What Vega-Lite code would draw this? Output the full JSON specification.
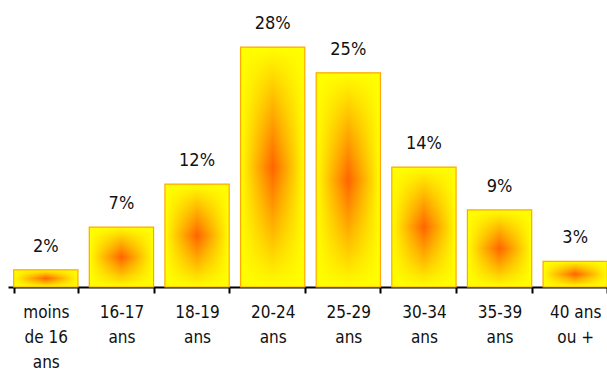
{
  "$schema": "https://vega.github.io/schema/vega-lite/v6.json",
  "width": 605,
  "height": 257,
  "autosize": {"type": "none"},
  "padding": {"left": 8, "top": 30, "right": 0, "bottom": 87},
  "background": "white",
  "config": {
    "view": {"stroke": null},
    "font": "DejaVu Sans Condensed"
  },
  "data": {
    "values": [
      {"groupe": "moins|de 16|ans", "part": 0.02, "etiquette": "2%"},
      {"groupe": "16-17|ans", "part": 0.07, "etiquette": "7%"},
      {"groupe": "18-19|ans", "part": 0.12, "etiquette": "12%"},
      {"groupe": "20-24|ans", "part": 0.28, "etiquette": "28%"},
      {"groupe": "25-29|ans", "part": 0.25, "etiquette": "25%"},
      {"groupe": "30-34|ans", "part": 0.14, "etiquette": "14%"},
      {"groupe": "35-39|ans", "part": 0.09, "etiquette": "9%"},
      {"groupe": "40 ans|ou +", "part": 0.03, "etiquette": "3%"}
    ]
  },
  "encoding": {
    "x": {
      "field": "groupe",
      "type": "nominal",
      "sort": null,
      "scale": {"paddingInner": 0.15, "paddingOuter": 0.075},
      "axis": {
        "title": null,
        "labelAngle": 0,
        "labelExpr": "split(datum.label, '|')",
        "labelFontSize": 17,
        "labelColor": "#111111",
        "labelLineHeight": 25,
        "labelPadding": 11,
        "labelBaseline": "top",
        "domainColor": "#000000",
        "domainWidth": 2,
        "tickColor": "#000000",
        "tickWidth": 2,
        "tickSize": 6,
        "tickBand": "extent",
        "grid": false
      }
    },
    "y": {
      "field": "part",
      "type": "quantitative",
      "scale": {"domain": [0, 0.3], "nice": false},
      "axis": null
    }
  },
  "layer": [
    {
      "mark": {
        "type": "bar",
        "fill": {
          "gradient": "linear",
          "x1": 0, "y1": 0, "x2": 1, "y2": 0,
          "stops": [
            {"offset": 0, "color": "#ffff00"},
            {"offset": 0.5, "color": "#ff6400"},
            {"offset": 1, "color": "#ffff00"}
          ]
        }
      }
    },
    {
      "mark": {
        "type": "bar",
        "stroke": "#ffa800",
        "strokeWidth": 1.2,
        "fill": {
          "gradient": "linear",
          "x1": 0, "y1": 0, "x2": 0, "y2": 1,
          "stops": [
            {"offset": 0, "color": "rgba(255,255,0,1)"},
            {"offset": 0.5, "color": "rgba(255,255,0,0)"},
            {"offset": 1, "color": "rgba(255,255,0,1)"}
          ]
        }
      }
    },
    {
      "mark": {
        "type": "text",
        "dy": -18,
        "baseline": "alphabetic",
        "fontSize": 18,
        "color": "#111111"
      },
      "encoding": {"text": {"field": "etiquette"}}
    }
  ]
}
